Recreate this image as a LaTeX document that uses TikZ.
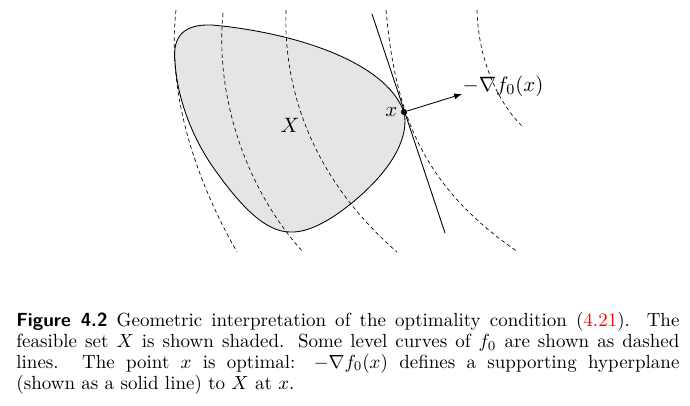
\documentclass[tikz,border=0pt]{standalone}
\usepackage{amsmath}
\usepackage{amssymb}
\usetikzlibrary{arrows,positioning}

\begin{document}
\begin{tikzpicture}
  [
   x=0.5263pt, y=-0.5263pt,
   lvl/.style={dash pattern=on 2pt off 1.6pt, line width=0.35pt},
   hyp/.style={line width=0.45pt},
   setX/.style={fill=black!10, draw=black, line width=0.45pt},
   lab/.style={inner sep=0pt, font=\fontsize{11.4}{13}\selectfont},
   dot/.style={circle, fill=black, inner sep=0pt, minimum size=3.2pt},
   capt/.style={inner sep=0pt, text width=349pt, align=justify,
                font=\fontsize{10}{11}\selectfont}
  ]
   \useasboundingbox (0,0) rectangle (690,405);

   % feasible set
   \draw[setX] (175,62) .. controls (172,35) and (185,24) .. (212,25)
     .. controls (290,32) and (385,60) .. (404,112)
     .. controls (409,135) and (395,165) .. (360,196)
     .. controls (335,218) and (310,233) .. (290,232)
     .. controls (265,232) and (240,205) .. (215,170)
     .. controls (190,135) and (177,95) .. cycle;

   % level curves
   \draw[lvl] (176,10) .. controls (167,90) and (193,175) .. (237,252);
   \draw[lvl] (223,13) .. controls (215,95) and (245,188) .. (303,252);
   \draw[lvl] (286,10) .. controls (283,100) and (320,185) .. (397,252);
   \draw[lvl] (386,10) .. controls (395,110) and (420,185) .. (518,252);
   \draw[lvl] (477,10) .. controls (478,55) and (495,100) .. (523,127);

   % supporting hyperplane
   \coordinate (hp1) at (372,14);
   \coordinate (hp2) at (445,233);
   \draw[hyp] (hp1) -- (hp2);

   \node[dot] (xpt) at (404,112) {};
   \node[lab] (xlab) [left=1.5pt of xpt] {$x$};
   \node[lab] (Xlab) at (290,125) {$X$};

   \coordinate (gtip) at (462,94);
   \node[lab] (glab) at (503,86) {$-\nabla f_0(x)$};
   \draw[->,>=latex,line width=0.45pt] (xpt) -- (gtip);

   \node[capt,anchor=north west] (cap) at (16,311.7)
     {\textsf{\bfseries Figure 4.2} Geometric interpretation of the optimality
      condition (\textcolor{red}{4.21}). The\linebreak feasible set $X$ is shown
      shaded. Some level curves of $f_0$ are shown as dashed\linebreak lines.
      The point $x$ is optimal: $-\nabla f_0(x)$ defines a supporting
      hyperplane\linebreak (shown as a solid line) to $X$ at $x$.};
\end{tikzpicture}
\end{document}
